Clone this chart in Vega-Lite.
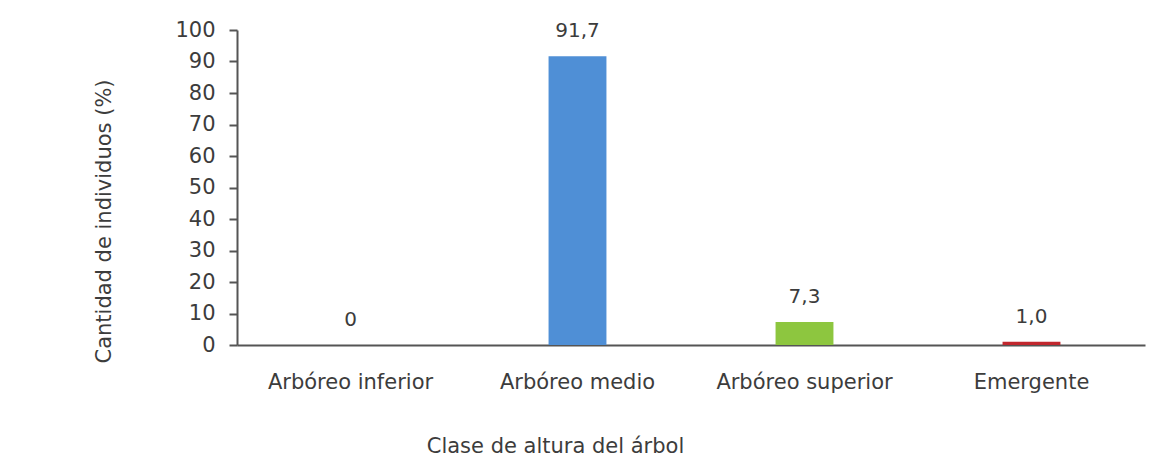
{
  "$schema": "https://vega.github.io/schema/vega-lite/v6.json",
  "width": 908,
  "height": 315,
  "autosize": "none",
  "padding": {"left": 237, "top": 30, "right": 26, "bottom": 129},
  "background": "white",
  "config": {
    "view": {"stroke": null},
    "font": "DejaVu Sans",
    "axis": {"labelFont": "DejaVu Sans", "titleFont": "DejaVu Sans", "labelColor": "#3c3c3c", "titleColor": "#3c3c3c", "titleFontWeight": "normal", "domainColor": "#555555", "tickColor": "#555555", "grid": false}
  },
  "data": {
    "values": [
      {"clase": "Arbóreo inferior", "valor": 0, "etiqueta": "0"},
      {"clase": "Arbóreo medio", "valor": 91.7, "etiqueta": "91,7"},
      {"clase": "Arbóreo superior", "valor": 7.3, "etiqueta": "7,3"},
      {"clase": "Emergente", "valor": 1.0, "etiqueta": "1,0"}
    ]
  },
  "encoding": {
    "x": {
      "field": "clase", "type": "nominal", "sort": null,
      "scale": {"paddingInner": 0.745, "paddingOuter": 0.3725},
      "axis": {
        "title": "Clase de altura del árbol", "labelAngle": 0, "ticks": false,
        "labelFontSize": 21, "labelPadding": 26, "domainWidth": 2,
        "titleFontSize": 21, "titleX": 318, "titleY": 90, "titleAlign": "center", "titleBaseline": "top"
      }
    },
    "y": {
      "field": "valor", "type": "quantitative",
      "scale": {"domain": [0, 100]},
      "axis": {
        "title": "Cantidad de individuos (%)", "values": [0,10,20,30,40,50,60,70,80,90,100],
        "labelFontSize": 21, "labelPadding": 14, "tickSize": 8, "domainWidth": 2, "tickWidth": 2,
        "titleFontSize": 21, "titleX": -133, "titleY": 191, "titleAlign": "center", "titleBaseline": "middle", "titleAngle": -90
      }
    },
    "color": {
      "field": "clase", "type": "nominal", "legend": null,
      "scale": {"domain": ["Arbóreo inferior", "Arbóreo medio", "Arbóreo superior", "Emergente"], "range": ["#4f8fd6", "#4f8fd6", "#8dc63f", "#c1272d"]}
    }
  },
  "layer": [
    {"mark": {"type": "bar", "strokeWidth": 0}},
    {"mark": {"type": "text", "baseline": "bottom", "dy": -15, "fontSize": 20, "color": "#3c3c3c"},
     "encoding": {"text": {"field": "etiqueta"}, "color": {"value": "#3c3c3c"}}}
  ]
}
